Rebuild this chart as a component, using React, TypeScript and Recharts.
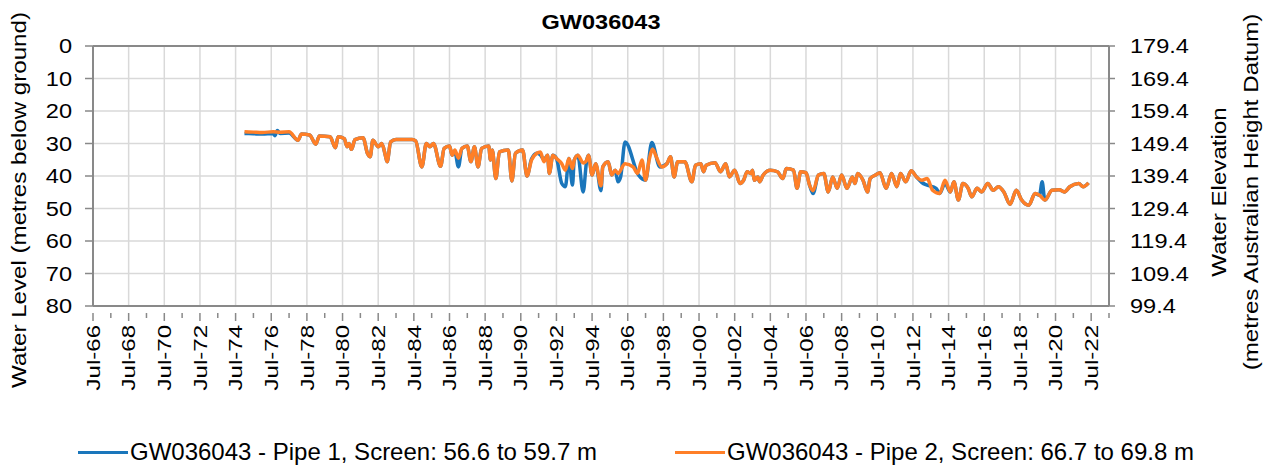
import { LineChart, Line, XAxis, YAxis, CartesianGrid, ReferenceLine, Legend } from 'recharts';

// ── Data ───────────────────────────────────────────────────────
const TITLE = 'GW036043';
const PIPE1_NAME = 'GW036043 - Pipe 1, Screen: 56.6 to 59.7 m';
const PIPE2_NAME = 'GW036043 - Pipe 2, Screen: 66.7 to 69.8 m';
const LEFT_TITLE = 'Water Level (metres below ground)';
const RIGHT_TITLE = ['Water Elevation', '(metres Australian Height Datum)'];
const SURFACE_RL = 179.4; // ground level, m AHD

const LEVEL_TICKS = [0, 10, 20, 30, 40, 50, 60, 70, 80];
// decimal years, Jul of each label year
const MAJOR_YEARS = [
  1966.5, 1968.5, 1970.5, 1972.5, 1974.5, 1976.5, 1978.5, 1980.5, 1982.5, 1984.5,
  1986.5, 1988.5, 1990.5, 1992.5, 1994.5, 1996.5, 1998.5, 2000.5, 2002.5, 2004.5,
  2006.5, 2008.5, 2010.5, 2012.5, 2014.5, 2016.5, 2018.5, 2020.5, 2022.5,
];
const X_DOMAIN: [number, number] = [1966.5, 2023.5];

// [decimal year, metres below ground]
const pipe2Levels: [number, number][] = [
  [1975.0, 26.4], [1975.5, 26.5], [1976.0, 26.6], [1976.6, 26.4], [1977.0, 26.5], [1977.5, 26.4],
  [1978.0, 29.0], [1978.2, 27.1], [1978.65, 27.4], [1979.0, 30.2], [1979.2, 27.7], [1979.8, 27.9],
  [1980.1, 31.3], [1980.25, 27.9], [1980.6, 28.5], [1980.75, 31.0], [1980.86, 30.0], [1981.0, 31.8],
  [1981.2, 28.8], [1981.65, 28.2], [1981.9, 33.1], [1982.05, 34.1], [1982.2, 29.0], [1982.5, 31.0],
  [1982.7, 30.0], [1982.9, 33.6], [1983.0, 35.6], [1983.2, 29.5], [1983.5, 28.8], [1984.4, 28.8],
  [1984.6, 29.2], [1984.95, 37.2], [1985.2, 30.0], [1985.4, 31.0], [1985.6, 30.0], [1986.0, 37.0],
  [1986.2, 31.5], [1986.5, 30.8], [1986.65, 33.6], [1986.8, 32.0], [1987.0, 34.5], [1987.2, 31.5],
  [1987.5, 30.8], [1987.7, 35.6], [1987.9, 31.0], [1988.1, 37.2], [1988.3, 31.5], [1988.7, 30.8],
  [1988.8, 35.1], [1988.9, 32.0], [1989.1, 40.8], [1989.3, 32.6], [1989.8, 32.0], [1990.0, 41.5],
  [1990.2, 33.0], [1990.6, 32.0], [1990.85, 40.0], [1991.1, 35.1], [1991.4, 33.0], [1991.6, 32.6],
  [1991.8, 35.6], [1992.0, 33.6], [1992.1, 39.2], [1992.3, 33.6], [1992.5, 34.6], [1992.8, 36.2],
  [1993.0, 38.2], [1993.2, 34.6], [1993.4, 37.7], [1993.5, 35.1], [1993.7, 33.6], [1994.0, 36.0],
  [1994.2, 35.1], [1994.3, 33.6], [1994.5, 39.7], [1994.7, 36.2], [1995.0, 43.0], [1995.1, 37.2],
  [1995.4, 35.6], [1995.6, 39.7], [1995.8, 38.2], [1995.95, 39.2], [1996.35, 36.2], [1996.8, 37.2],
  [1997.05, 39.2], [1997.3, 35.1], [1997.5, 41.3], [1997.7, 35.1], [1997.9, 31.8], [1998.1, 34.1],
  [1998.4, 37.2], [1998.7, 36.2], [1998.9, 34.1], [1999.1, 40.3], [1999.3, 35.6], [1999.7, 35.6],
  [2000.1, 41.8], [2000.3, 36.7], [2000.6, 36.2], [2000.75, 38.7], [2000.9, 36.7], [2001.4, 35.9],
  [2001.7, 38.7], [2002.0, 36.2], [2002.2, 40.3], [2002.5, 38.2], [2002.8, 42.3], [2003.0, 41.3],
  [2003.2, 38.7], [2003.4, 39.2], [2003.5, 38.2], [2003.6, 41.3], [2003.8, 40.3], [2003.9, 41.8],
  [2004.1, 39.7], [2004.5, 38.2], [2004.9, 38.7], [2005.2, 40.8], [2005.4, 37.7], [2005.8, 38.2],
  [2006.0, 43.8], [2006.2, 38.7], [2006.5, 39.0], [2006.7, 42.8], [2006.9, 44.5], [2007.2, 39.7],
  [2007.5, 39.2], [2007.75, 44.9], [2008.0, 40.3], [2008.25, 43.8], [2008.5, 39.7], [2008.8, 43.8],
  [2009.1, 40.3], [2009.25, 42.3], [2009.4, 39.2], [2009.7, 41.3], [2009.95, 44.9], [2010.1, 40.8],
  [2010.4, 39.7], [2010.65, 39.0], [2011.0, 43.8], [2011.3, 39.2], [2011.6, 43.3], [2011.8, 39.2],
  [2012.1, 41.8], [2012.4, 38.4], [2012.7, 40.3], [2013.0, 41.3], [2013.3, 40.8], [2013.6, 44.4],
  [2014.0, 45.4], [2014.3, 41.3], [2014.6, 44.9], [2014.8, 41.8], [2015.05, 47.4], [2015.3, 42.3],
  [2015.6, 43.8], [2015.8, 46.4], [2016.1, 43.8], [2016.35, 44.9], [2016.7, 42.3], [2017.0, 44.4],
  [2017.3, 43.3], [2017.6, 44.9], [2017.95, 48.7], [2018.3, 44.4], [2018.6, 47.4], [2019.0, 49.0],
  [2019.35, 45.4], [2019.6, 45.9], [2019.9, 47.4], [2020.3, 44.4], [2020.7, 44.2], [2021.0, 44.9],
  [2021.3, 43.3], [2021.8, 42.3], [2022.05, 43.3], [2022.35, 42.1],
];

const pipe1Levels: [number, number][] = [
  [1975.0, 26.9], [1975.5, 27.0], [1976.0, 27.1], [1976.6, 26.9], [1976.7, 27.6], [1976.84, 26.0],
  [1977.0, 26.9], [1977.5, 26.8],
  [1978.0, 29.0], [1978.2, 27.1], [1978.65, 27.4], [1979.0, 30.2], [1979.2, 27.7], [1979.8, 27.9],
  [1980.1, 31.3], [1980.25, 27.9], [1980.6, 28.5], [1980.75, 31.0], [1980.86, 30.0], [1981.0, 31.8],
  [1981.2, 28.8], [1981.65, 28.2], [1981.9, 33.1], [1982.05, 34.1], [1982.2, 29.0], [1982.5, 31.0],
  [1982.7, 30.0], [1982.9, 33.6], [1983.0, 35.6], [1983.2, 29.5], [1983.5, 28.8], [1984.4, 28.8],
  [1984.6, 29.2], [1984.95, 37.2], [1985.2, 30.0], [1985.4, 31.0], [1985.6, 30.0], [1986.0, 37.0],
  [1986.2, 31.5], [1986.5, 30.8], [1986.65, 33.6], [1986.8, 32.5], [1987.0, 37.2], [1987.2, 31.5],
  [1987.5, 30.8], [1987.7, 35.6], [1987.9, 31.0], [1988.1, 37.2], [1988.3, 31.5], [1988.7, 30.8],
  [1988.8, 35.1], [1988.9, 32.0], [1989.1, 40.8], [1989.3, 32.6], [1989.8, 32.0], [1990.0, 41.5],
  [1990.2, 33.0], [1990.6, 32.0], [1990.85, 40.0], [1991.1, 34.8], [1991.4, 33.0], [1991.6, 33.5],
  [1991.8, 35.0], [1992.0, 33.6], [1992.1, 39.2], [1992.3, 33.6], [1992.5, 34.6], [1992.8, 42.3],
  [1993.0, 43.3], [1993.2, 34.6], [1993.4, 42.8], [1993.5, 35.1], [1993.7, 33.6], [1994.0, 44.9],
  [1994.2, 35.1], [1994.3, 33.6], [1994.5, 39.7], [1994.7, 36.2], [1995.0, 44.5], [1995.1, 37.2],
  [1995.4, 35.6], [1995.6, 39.7], [1995.8, 38.2], [1995.95, 41.8], [1996.1, 40.3], [1996.35, 29.5],
  [1997.1, 39.7], [1997.5, 41.3], [1997.85, 29.7], [1998.3, 37.2],
  [1998.7, 36.2], [1998.9, 34.1], [1999.1, 40.3], [1999.3, 35.6], [1999.7, 35.6],
  [2000.1, 41.8], [2000.3, 36.7], [2000.6, 36.2], [2000.75, 38.7], [2000.9, 36.7], [2001.4, 35.9],
  [2001.7, 38.7], [2002.0, 36.2], [2002.2, 40.3], [2002.5, 38.2], [2002.8, 42.3], [2003.0, 41.3],
  [2003.2, 38.7], [2003.4, 39.2], [2003.5, 38.2], [2003.6, 41.3], [2003.8, 40.3], [2003.9, 41.8],
  [2004.1, 39.7], [2004.5, 38.2], [2004.9, 38.7], [2005.2, 40.8], [2005.4, 37.7], [2005.8, 38.2],
  [2006.0, 43.8], [2006.2, 38.7], [2006.5, 39.0], [2006.7, 42.8], [2006.9, 45.4], [2007.2, 39.7],
  [2007.5, 39.2], [2007.75, 44.9], [2008.0, 40.3], [2008.25, 43.8], [2008.5, 39.7], [2008.8, 43.8],
  [2009.1, 40.3], [2009.25, 42.3], [2009.4, 39.2], [2009.7, 41.3], [2009.95, 44.9], [2010.1, 40.8],
  [2010.4, 39.7], [2010.65, 39.0], [2011.0, 43.8], [2011.3, 39.2], [2011.6, 43.3], [2011.8, 39.2],
  [2012.1, 41.8], [2012.4, 38.4], [2012.7, 40.3], [2013.0, 42.0], [2013.3, 42.8], [2013.8, 43.8],
  [2014.0, 45.4], [2014.3, 42.3], [2014.6, 44.9], [2014.8, 41.8], [2015.05, 47.4], [2015.3, 42.3],
  [2015.6, 43.8], [2015.8, 46.4], [2016.1, 43.8], [2016.35, 44.9], [2016.7, 42.3], [2017.0, 44.4],
  [2017.3, 43.3], [2017.6, 44.9], [2017.95, 48.7], [2018.3, 44.4], [2018.6, 47.4], [2019.0, 49.0],
  [2019.35, 45.4], [2019.6, 45.9], [2019.75, 41.8], [2019.9, 47.4], [2020.3, 44.4], [2020.7, 44.2],
  [2021.0, 44.9], [2021.3, 43.3], [2021.8, 42.3], [2022.05, 43.3], [2022.35, 42.1],
];

// ── Styling ────────────────────────────────────────────────────
const FONT = '"Liberation Sans", Arial, sans-serif';
const AXIS_GREY = '#898989';
const GRID_GREY = '#d9d9d9';
const BLUE = '#1a76bb';
const ORANGE = '#ff7f27';
const W = 1266;
const H = 467;

const toRows = (pts: [number, number][]) => pts.map(([date, level]) => ({ date, level }));
const pipe1Data = toRows(pipe1Levels);
const pipe2Data = toRows(pipe2Levels);

// one tick per year; labels only on the majors (every 2 years)
const yearTicks: number[] = [];
for (let y = X_DOMAIN[0]; y <= X_DOMAIN[1]; y += 1) yearTicks.push(y);

function julLabel(v: number) {
  return 'Jul-' + String(Math.floor(v) % 100).padStart(2, '0');
}

function XTick(props: any) {
  const { x, y, payload } = props;
  const major = MAJOR_YEARS.includes(payload.value);
  return (
    <g>
      <line x1={x} x2={x} y1={y - 1} y2={y + (major ? 7 : 4)} stroke={AXIS_GREY} strokeWidth={1.5} />
      {major && (
        <text
          transform={`translate(${x},${y + 11}) rotate(-90) scale(1.3,1)`}
          textAnchor="end"
          dy="0.36em"
          fontSize={18.5}
          fontFamily={FONT}
          fill="#000"
        >
          {julLabel(payload.value)}
        </text>
      )}
    </g>
  );
}

function YTick(props: any) {
  const { x, y, payload, anchor, fmt } = props;
  return (
    <text
      transform={`translate(${x},${y}) scale(1.15,1)`}
      textAnchor={anchor}
      dy="0.36em"
      fontSize={20.5}
      fontFamily={FONT}
      fill="#000"
    >
      {fmt(payload.value)}
    </text>
  );
}

// axis titles are placed on the page directly, Recharts' label props are ignored
function AxisTitle({ posX, posY, texts }: { posX: number[]; posY: number; texts: string[] }) {
  return (
    <g>
      {texts.map((t, i) => (
        <text
          key={t}
          transform={`translate(${posX[i]},${posY}) rotate(-90) scale(1.15,1)`}
          textAnchor="middle"
          dy="0.36em"
          fontSize={21}
          fontFamily={FONT}
          fill="#000"
        >
          {t}
        </text>
      ))}
    </g>
  );
}

function LegendBox() {
  const item = (left: number, color: string, name: string) => (
    <div style={{ position: 'absolute', left, top: 11, display: 'flex', alignItems: 'center', height: 28 }}>
      <div style={{ width: 50, height: 3, background: color, marginRight: 2 }} />
      <span style={{ fontSize: 24, fontFamily: FONT, color: '#000', whiteSpace: 'nowrap' }}>{name}</span>
    </div>
  );
  return (
    <div style={{ position: 'relative', width: W, height: 40 }}>
      {item(78, BLUE, PIPE1_NAME)}
      {item(675, ORANGE, PIPE2_NAME)}
    </div>
  );
}

export default function App() {
  return (
    <div style={{ position: 'absolute', left: 0, top: 0, width: W, height: H, background: '#fff' }}>
      <div
        style={{
          position: 'absolute', left: 0, top: 10, width: 1202, textAlign: 'center',
          fontSize: 21, fontWeight: 'bold', fontFamily: FONT, lineHeight: '24px',
          transform: 'scaleX(1.12)', zIndex: 1,
        }}
      >
        {TITLE}
      </div>
      <LineChart width={W} height={H} margin={{ top: 46, right: 0, bottom: 0, left: 23 }}>
        <CartesianGrid yAxisId="left" stroke={GRID_GREY} strokeWidth={1.5} vertical={false} />
        {MAJOR_YEARS.map((yr) => (
          <ReferenceLine key={yr} x={yr} yAxisId="left" stroke={GRID_GREY} strokeWidth={1.5} />
        ))}
        <ReferenceLine y={0} yAxisId="left" stroke={AXIS_GREY} strokeWidth={2} />
        <XAxis
          type="number"
          dataKey="date"
          domain={X_DOMAIN}
          ticks={yearTicks}
          interval={0}
          allowDataOverflow
          tick={<XTick />}
          tickLine={false}
          axisLine={{ stroke: AXIS_GREY, strokeWidth: 2 }}
          height={121}
        />
        <YAxis
          yAxisId="left"
          type="number"
          domain={[0, 80]}
          reversed
          ticks={LEVEL_TICKS}
          interval={0}
          allowDataOverflow
          width={70}
          tickSize={8}
          tickMargin={13}
          tickLine={{ stroke: AXIS_GREY, strokeWidth: 1.5 }}
          axisLine={{ stroke: AXIS_GREY, strokeWidth: 2 }}
          tick={<YTick anchor="end" fmt={(v: number) => String(v)} />}
          label={<AxisTitle posX={[18]} posY={200} texts={[LEFT_TITLE]} />}
        />
        <YAxis
          yAxisId="right"
          orientation="right"
          type="number"
          domain={[0, 80]}
          reversed
          ticks={LEVEL_TICKS}
          interval={0}
          allowDataOverflow
          width={157}
          tickSize={6}
          tickMargin={15}
          tickLine={{ stroke: AXIS_GREY, strokeWidth: 1.5 }}
          axisLine={{ stroke: AXIS_GREY, strokeWidth: 2 }}
          tick={<YTick anchor="start" fmt={(v: number) => (SURFACE_RL - v).toFixed(1)} />}
          label={<AxisTitle posX={[1218, 1250]} posY={192} texts={RIGHT_TITLE} />}
        />
        <Legend verticalAlign="bottom" height={40} content={() => <LegendBox />} wrapperStyle={{ left: 0, width: W }} />
        <Line
          yAxisId="left"
          type="monotone"
          data={pipe1Data}
          dataKey="level"
          name={PIPE1_NAME}
          stroke={BLUE}
          strokeWidth={3.5}
          dot={false}
          isAnimationActive={false}
        />
        <Line
          yAxisId="right"
          type="monotone"
          data={pipe2Data}
          dataKey="level"
          name={PIPE2_NAME}
          stroke={ORANGE}
          strokeWidth={3.5}
          dot={false}
          isAnimationActive={false}
        />
      </LineChart>
    </div>
  );
}
